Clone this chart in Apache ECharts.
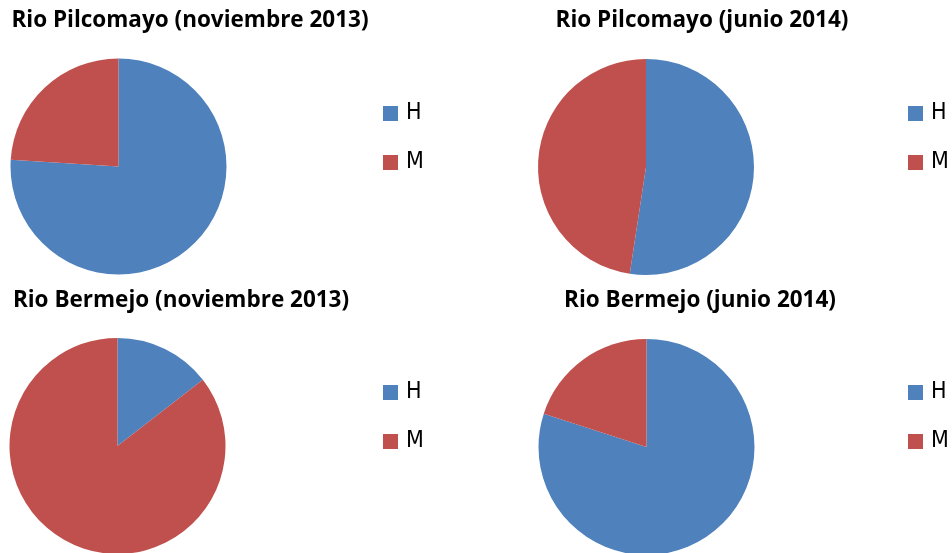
<!DOCTYPE html>
<html>
<head>
<meta charset="utf-8">
<script src="https://cdn.jsdelivr.net/npm/echarts@6/dist/echarts.min.js"></script>
<style>
html,body{margin:0;padding:0;background:#fff;}
#main{width:952px;height:553px;}
</style>
</head>
<body>
<div id="main"></div>
<script>
const titles = ['Rio Pilcomayo (noviembre 2013)', 'Rio Pilcomayo (junio 2014)', 'Rio Bermejo (noviembre 2013)', 'Rio Bermejo (junio 2014)'];
const categories = ['H', 'M'];
const hValues = [76, 52.4, 14.5, 80];
const mValues = [24, 47.6, 85.5, 20];
const colors = ['#4F81BD', '#C0504D'];

const panels = [
  { cx: 118.5, cy: 166.5, tx: 190, ty: 10, lx: 383, ly: 102 },
  { cx: 646, cy: 167, tx: 702, ty: 10, lx: 908, ly: 102 },
  { cx: 117.5, cy: 446, tx: 181, ty: 290, lx: 383, ly: 381 },
  { cx: 646.5, cy: 447, tx: 700, ty: 290, lx: 908, ly: 381 }
];

const chart = echarts.init(document.getElementById('main'));
const option = {
  animation: false,
  color: colors,
  title: titles.map((t, i) => ({
    text: t,
    left: panels[i].tx,
    top: panels[i].ty,
    textAlign: 'center',
    padding: 0,
    textStyle: { fontFamily: 'Open Sans', fontWeight: 'bold', fontSize: 22.5, lineHeight: 22, color: '#000' }
  })),
  legend: panels.map(p => ({
    data: categories,
    orient: 'vertical',
    left: p.lx,
    top: p.ly,
    padding: 0,
    icon: 'rect',
    itemWidth: 15,
    itemHeight: 15,
    itemGap: 26,
    selectedMode: false,
    textStyle: { fontFamily: '"Liberation Sans Narrow", "DejaVu Sans Condensed", "Liberation Sans", sans-serif', fontSize: 23, color: '#000', lineHeight: 22, padding: [0, 0, 0, 3] }
  })),
  series: panels.map((p, i) => ({
    type: 'pie',
    center: [p.cx, p.cy],
    radius: 108,
    startAngle: 90,
    clockwise: true,
    label: { show: false },
    labelLine: { show: false },
    emphasis: { disabled: true },
    itemStyle: { borderWidth: 0 },
    data: [
      { name: categories[0], value: hValues[i] },
      { name: categories[1], value: mValues[i] }
    ]
  }))
};
chart.setOption(option);
</script>
</body>
</html>
